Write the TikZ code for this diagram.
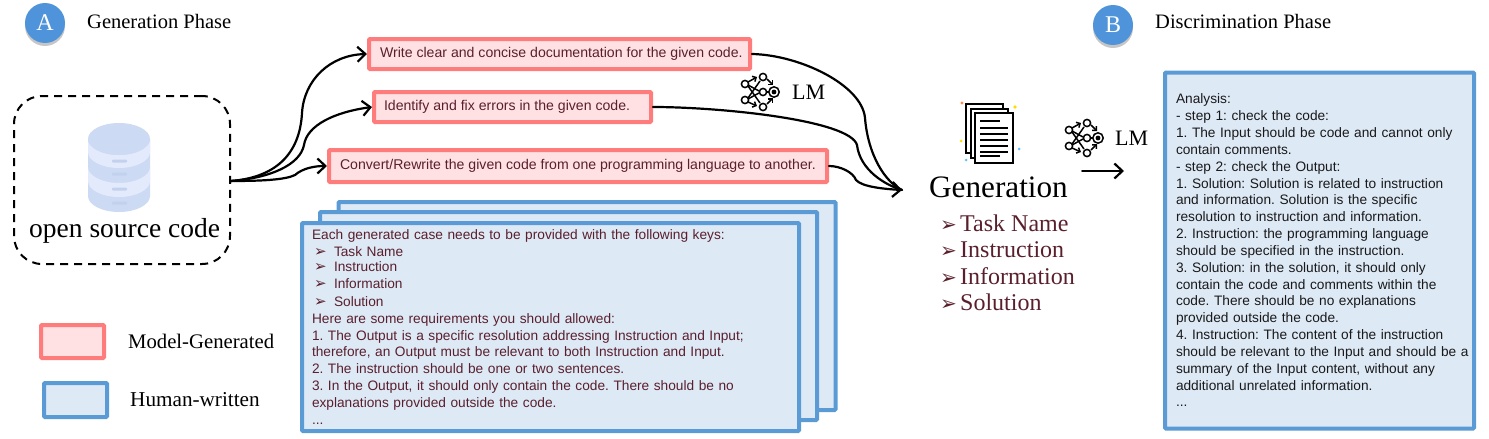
\documentclass[tikz,border=0pt]{standalone}
\usepackage{fontspec}
\setmainfont{Liberation Serif}
\setsansfont{Liberation Sans}
\newfontfamily\djvu{DejaVu Sans}
\usetikzlibrary{arrows.meta,shadows}
\definecolor{pinkline}{HTML}{FF7C7C}
\definecolor{pinkfill}{HTML}{FFE1E3}
\definecolor{blueline}{HTML}{5B9BD5}
\definecolor{bluefill}{HTML}{DEE9F6}
\definecolor{maroon}{HTML}{5A1F2C}
\definecolor{badge}{HTML}{4F94DA}
\definecolor{dbdark}{HTML}{CDDAF3}
\definecolor{dblight}{HTML}{E3EAFC}
\definecolor{dbslot}{HTML}{C3D1EE}
\frenchspacing
\newcommand{\blt}[1]{\makebox[20pt][l]{\smash{\djvu\fontsize{15}{12}\selectfont ➢}}#1}
\newcommand{\genblt}[1]{\makebox[20pt][l]{\smash{\djvu\fontsize{20}{16}\selectfont ➢}}#1}
\tikzset{
  x=1pt,y=-1pt,
  pinkbox/.style={draw=pinkline,fill=pinkfill,line width=4pt,rounded corners=1pt,inner sep=0pt,text=maroon,font=\sffamily\fontsize{14.1}{16}\selectfont},
  bluebox/.style={draw=blueline,fill=bluefill,line width=4pt,rounded corners=1pt,inner sep=0pt,align=left,font=\sffamily\fontsize{13.7}{16.83}\selectfont},
  badgenode/.style={circle,fill=badge,minimum size=40pt,inner sep=0pt,text=white,font=\fontsize{24}{24}\selectfont,drop shadow={shadow xshift=0pt,shadow yshift=-3pt,opacity=.45}},
  serif/.style={inner sep=0pt,anchor=base west},
  flow/.style={black,line width=2.2pt,line cap=round},
  head/.style={-{Straight Barb[length=8pt,width=15pt,line width=2.2pt]}},
  nnicon/.pic={
    \foreach \a/\b in {-29/-8,-29/8}{
      \draw[line width=1.5pt,fill=white] (\a,\b) circle (3.6);
    }
    \draw[line width=1.5pt,-{Straight Barb[length=3pt,width=6pt]}] (-26,-10) -- (-17,-15);
    \draw[line width=1.5pt] (-26,-6) -- (-14,11);
    \draw[line width=1.5pt] (-26,6) -- (-14,-11);
    \draw[line width=1.5pt] (-26,-7) -- (-15,-1);
    \draw[line width=1.5pt] (-26,7) -- (-15,1);
    \draw[line width=1.5pt,-{Straight Barb[length=3pt,width=6pt]}] (-26,10) -- (-17,14);
    \draw[line width=1.5pt,-{Straight Barb[length=3pt,width=6pt]}] (-7,-13) -- (-1,-7);
    \draw[line width=1.5pt,-{Straight Barb[length=3pt,width=6pt]}] (-7,12) -- (-1,6);
    \draw[line width=1.5pt] (-8,0) -- (-5,0);
    \foreach \a/\b in {-11/-15,-11/0,-11/15}{
      \draw[line width=1.5pt,fill=white] (\a,\b) circle (3.6);
    }
    \draw[line width=1.5pt,fill=white] (0,0) circle (5.2);
    \fill (0,0) circle (2.4);
  }
}
\begin{document}
\begin{tikzpicture}
\useasboundingbox (0,0) rectangle (1489,439);
% badges and titles
\node[badgenode] (badgeA) at (45,23) {A};
\node[serif,font=\fontsize{20.5}{18}\selectfont] (titleA) at (87,28) {Generation Phase};
\node[badgenode] (badgeB) at (1113,25) {B};
\node[serif,font=\fontsize{20.5}{18}\selectfont] (titleB) at (1155,28) {Discrimination Phase};
% source
\node[draw,line width=2pt,dash pattern=on 8pt off 6pt,rounded corners=28pt,minimum width=216pt,minimum height=168pt] (src) at (122,180) {};
\fill[dbdark] (88,139) -- (88,196) arc[x radius=31,y radius=16,start angle=180,end angle=0] -- (150,139) -- cycle;
\fill[dblight] (88,139) arc[x radius=31,y radius=16,start angle=180,end angle=0] -- (150,152) arc[x radius=31,y radius=16,start angle=0,end angle=180] -- cycle;
\fill[dblight] (88,167) arc[x radius=31,y radius=16,start angle=180,end angle=0] -- (150,181) arc[x radius=31,y radius=16,start angle=0,end angle=180] -- cycle;
\fill[dbdark] (119,139) ellipse[x radius=31,y radius=16];
\foreach \yy in {161,174,189,203}{\fill[dbslot,rounded corners=1pt] (112,\yy-1.5) rectangle (127,\yy+1.5);}
\node[serif,font=\fontsize{27.5}{27}\selectfont] (srclabel) at (29,237) {open source code};
% pink prompts
\node[pinkbox,minimum height=30pt] (w1) at (559.5,54) {\makebox[381pt][l]{\hspace{11pt}\raisebox{-1.5pt}{Write clear and concise documentation for the given code.}}};
\node[pinkbox,minimum height=30pt] (w2) at (512.5,107) {\makebox[277pt][l]{\hspace{10pt}\raisebox{-1.5pt}{Identify and fix errors in the given code.}}};
\node[pinkbox,minimum height=32pt] (w3) at (578,166) {\makebox[498pt][l]{\hspace{11pt}\raisebox{-1.5pt}{Convert/Rewrite the given code from one programming language to another.}}};
% connectors left
\coordinate (srcout) at (231,181);
\draw[flow,head] (src.east |- srcout) .. controls (280,177) and (300,150) .. (302,113) .. controls (304,80) and (330,55) .. (w1.west);
\draw[flow,head] (src.east |- srcout) .. controls (270,178) and (300,165) .. (304,145) .. controls (307,125) and (335,112) .. (w2.west);
\draw[flow,head] (src.east |- srcout) .. controls (260,181) and (285,180) .. (295,175) .. controls (303,168) and (315,166) .. (w3.west);
% connectors right
\coordinate (genin) at (902,190);
\draw[flow] (w1.east) .. controls (800,55) and (862,85) .. (865,118) .. controls (868,155) and (885,182) .. (genin);
\draw[flow] (w2.east) .. controls (720,107) and (850,120) .. (857,145) .. controls (860,170) and (885,185) .. (genin);
\draw[flow,head] (w3.east) .. controls (840,166) and (853,172) .. (856,180) .. controls (862,187) and (885,189) .. (genin);
% stacked instruction sheets
\node[bluebox,minimum width=497pt,minimum height=208pt] (sheetc) at (587,306) {};
\node[bluebox,minimum width=497pt,minimum height=208pt] (sheetb) at (568.5,316) {};
\node[bluebox,text=maroon,text width=477pt,inner xsep=10pt,minimum height=208pt] (sheeta) at (550.5,327) {Each generated case needs to be provided with the following keys:\\
\hspace*{2pt}\blt{Task Name}\\[-1.5pt]
\hspace*{2pt}\blt{Instruction}\\
\hspace*{2pt}\blt{Information}\\[1pt]
\hspace*{2pt}\blt{Solution}\\
Here are some requirements you should allowed:\\
1. The Output is a specific resolution addressing Instruction and Input;\\
therefore, an Output must be relevant to both Instruction and Input.\\
2. The instruction should be one or two sentences.\\
3. In the Output, it should only contain the code. There should be no\\
explanations provided outside the code.\\
...};
% legend
\node[bluebox,draw=pinkline,fill=pinkfill,minimum width=63pt,minimum height=33pt] (legpink) at (72.5,341.5) {};
\node[serif,font=\fontsize{20.7}{18}\selectfont] (legpinklabel) at (128,348) {Model-Generated};
\node[bluebox,minimum width=63pt,minimum height=34pt] (legblue) at (75.5,400) {};
\node[serif,font=\fontsize{21.2}{18}\selectfont] (legbluelabel) at (130,406) {Human-written};
% LM marks
\pic at (774,92) {nnicon};
\node[serif,font=\fontsize{22}{22}\selectfont] (lm1) at (792,99) {LM};
\pic at (1098,138) {nnicon};
\node[serif,font=\fontsize{22}{22}\selectfont] (lm2) at (1115,145) {LM};
% document icon
\foreach \dx/\dy in {0/0,5/5,10/10}{\draw[line width=1.7pt,fill=white] (966+\dx,104+\dy) rectangle (1003+\dx,153+\dy);}
\draw[line width=1.7pt,fill=white] (975,113) rectangle (1013,163);
\draw[line width=1.5pt] (980,121) -- (1000,121);
\foreach \yy in {128,134,140,146,152}{\draw[line width=1.5pt] (980,\yy) -- (1008,\yy);}
\draw[line width=1.5pt] (980,156) -- (1000,156);
\fill[orange!70!red!70] (962,103) circle (1.6);
\fill[yellow!80!orange] (1015,107) circle (1.8);
\fill[yellow!80!orange] (961,141) circle (1.5);
\fill[blue!40!cyan!60] (1019,149) circle (1.5);
\fill[blue!40!cyan!60] (966,160) circle (1.5);
% generation
\node[serif,font=\fontsize{31.2}{30}\selectfont] (gen) at (929,197) {Generation};
\node[serif,text=maroon,align=left,font=\fontsize{24}{26.3}\selectfont,anchor=north west] (genlist) at (940,215) {\genblt{Task Name}\\[-0.5pt]\genblt{Instruction}\\[0.5pt]\genblt{Information}\\\genblt{Solution}};
% arrow to analysis
\coordinate (a0) at (1082,171);
\coordinate (a1) at (1124,171);
\draw[flow,head,line width=1.7pt] (a0) -- (a1);
% analysis
\node[bluebox,text=black!90,text width=309pt,inner xsep=0pt,minimum height=356pt] (analysis) at (1319.5,250.5) {\leftskip=11pt\relax Analysis:\\
- step 1: check the code:\\
1. The Input should be code and cannot only\\
contain comments.\\
- step 2: check the Output:\\
1. Solution: Solution is related to instruction\\
and information. Solution is the specific\\
resolution to instruction and information.\\
2. Instruction: the programming language\\
should be specified in the instruction.\\
3. Solution: in the solution, it should only\\
contain the code and comments within the\\
code. There should be no explanations\\
provided outside the code.\\
4. Instruction: The content of the instruction\\
should be relevant to the Input and should be a\\
summary of the Input content, without any\\
additional unrelated information.\\
...\par};
\end{tikzpicture}
\end{document}
